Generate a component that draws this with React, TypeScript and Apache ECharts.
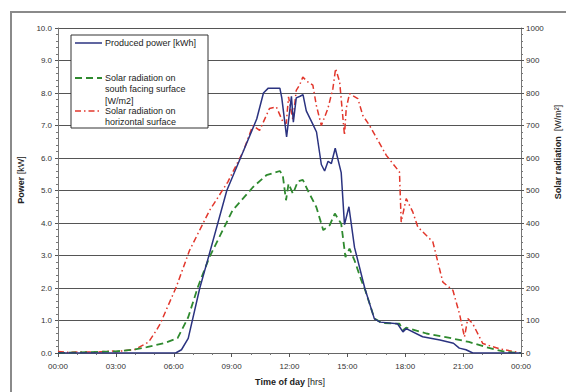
import React, { useEffect, useRef } from "react";
import * as echarts from "echarts";

// Produced power [kW] (left axis)
const powerHours = [0, 6.1, 6.4, 6.75, 7.35, 7.8, 8.75, 9.6, 10.3, 10.65, 10.9, 11.5, 11.6, 11.85, 12.1, 12.2, 12.35, 12.55, 12.7, 12.87, 13.2, 13.4, 13.65, 13.82, 14.0, 14.17, 14.37, 14.68, 14.85, 15.08, 15.37, 15.9, 16.4, 16.7, 17.6, 17.88, 18.05, 18.9, 19.8, 20.5, 20.8, 21.15, 21.5, 24];
const powerKW = [0, 0, 0.1, 0.45, 2.0, 2.95, 5.0, 6.2, 7.2, 8.0, 8.15, 8.15, 7.85, 6.65, 7.9, 7.1, 7.85, 7.9, 7.95, 7.45, 7.05, 6.8, 5.8, 5.6, 5.9, 5.83, 6.3, 5.55, 3.95, 4.5, 3.25, 2.0, 1.05, 0.95, 0.9, 0.65, 0.75, 0.5, 0.4, 0.3, 0.15, 0.1, 0, 0];

// Solar radiation on south facing surface [W/m2] (right axis)
const southHours = [0, 3.0, 3.9, 4.6, 5.6, 6.2, 6.75, 7.25, 7.85, 8.45, 9.05, 10.1, 10.8, 11.5, 11.65, 11.82, 11.95, 12.18, 12.43, 12.69, 12.95, 13.39, 13.75, 14.08, 14.35, 14.68, 14.9, 15.11, 15.37, 15.72, 15.9, 16.4, 16.8, 17.7, 17.88, 18.05, 19.1, 20.1, 21.3, 22.2, 23.2, 24];
const southWm2 = [0, 5, 10, 18, 32, 46, 110, 203, 295, 367, 439, 510, 547, 560, 547, 470, 521, 490, 528, 533, 500, 449, 378, 393, 429, 398, 295, 321, 285, 224, 198, 106, 92, 90, 70, 78, 60, 49, 34, 18, 3, 0];

// Solar radiation on horizontal surface [W/m2] (right axis)
const horizHours = [0, 0.5, 1.0, 2.0, 2.8, 3.0, 4.0, 4.7, 5.1, 5.3, 6.13, 6.82, 7.86, 8.8, 9.6, 10.1, 10.45, 10.96, 11.32, 11.66, 11.83, 11.95, 12.18, 12.35, 12.52, 12.69, 12.95, 13.21, 13.39, 13.65, 13.99, 14.25, 14.39, 14.6, 14.85, 14.94, 15.11, 15.54, 15.8, 16.15, 17.02, 17.7, 17.79, 18.05, 18.39, 18.65, 19.43, 19.95, 20.47, 20.81, 21.07, 21.24, 21.5, 22.02, 22.88, 23.75, 24];
const horizWm2 = [5, 2, 3, 3, 6, 4, 11, 34, 70, 90, 203, 316, 439, 526, 620, 700, 685, 752, 757, 711, 706, 788, 716, 808, 824, 849, 834, 824, 762, 700, 752, 814, 875, 834, 670, 752, 798, 783, 731, 700, 608, 557, 403, 475, 434, 388, 342, 218, 193, 121, 49, 106, 90, 29, 13, 3, 0];

const xTickLabels = ["00:00", "03:00", "06:00", "09:00", "12:00", "15:00", "18:00", "21:00", "00:00"];

const legendNames = ["Produced power [kWh]", "Solar radiation on\nsouth facing surface\n[W/m2]", "Solar radiation on\nhorizontal surface"];

const FONT = "'Liberation Sans', Arial, sans-serif";
const BLUE = "#2b3380";
const GREEN = "#2f8a2f";
const RED = "#e2372c";

const zip = (a: number[], b: number[]) => a.map((v, i) => [v, b[i]]);

export default function App() {
  const ref = useRef<HTMLDivElement>(null);
  useEffect(() => {
    if (!ref.current) return;
    const chart = echarts.init(ref.current, null, { renderer: "svg" });
    const axisLabel = { fontFamily: FONT, fontSize: 8, color: "#333" };
    chart.setOption({
      animation: false,
      backgroundColor: "#fff",
      grid: { left: 58, right: 45, top: 28, bottom: 39, containLabel: false },
      xAxis: {
        type: "value",
        min: 0,
        max: 24,
        interval: 3,
        axisLine: { lineStyle: { color: "#666", width: 1 } },
        axisTick: { show: true, length: 4, lineStyle: { color: "#555" } },
        minorTick: { show: true, splitNumber: 3, length: 2, lineStyle: { color: "#777" } },
        splitLine: { show: false },
        axisLabel: { ...axisLabel, margin: 9, formatter: (v: number) => xTickLabels[Math.round(v / 3)] },
      },
      yAxis: [
        {
          type: "value",
          min: 0,
          max: 10,
          interval: 1,
          axisLine: { show: true, lineStyle: { color: "#777" } },
          axisTick: { show: true, length: 3, lineStyle: { color: "#555" } },
          minorTick: { show: true, splitNumber: 5, length: 2, lineStyle: { color: "#777" } },
          splitLine: { show: true, lineStyle: { color: "#555", width: 1 } },
          axisLabel: { ...axisLabel, margin: 6, formatter: (v: number) => v.toFixed(1) },
        },
        {
          type: "value",
          min: 0,
          max: 1000,
          interval: 100,
          position: "right",
          axisLine: { show: true, lineStyle: { color: "#777" } },
          axisTick: { show: true, length: 3, lineStyle: { color: "#555" } },
          minorTick: { show: true, splitNumber: 5, length: 2, lineStyle: { color: "#777" } },
          splitLine: { show: false },
          axisLabel: { ...axisLabel, margin: 5, formatter: (v: number) => String(v) },
        },
      ],
      series: [
        {
          name: legendNames[0],
          type: "line",
          yAxisIndex: 0,
          data: zip(powerHours, powerKW),
          showSymbol: false,
          z: 4,
          lineStyle: { color: BLUE, width: 1.5 },
        },
        {
          name: legendNames[1],
          type: "line",
          yAxisIndex: 1,
          data: zip(southHours, southWm2),
          showSymbol: false,
          z: 3,
          lineStyle: { color: GREEN, width: 1.8, type: [7, 4] },
        },
        {
          name: legendNames[2],
          type: "line",
          yAxisIndex: 1,
          data: zip(horizHours, horizWm2),
          showSymbol: false,
          z: 2,
          lineStyle: { color: RED, width: 1.5, type: [6, 3, 1.5, 3] },
        },
      ],
      graphic: [
        {
          type: "rect",
          shape: { x: 11, y: 12, width: 600, height: 420 },
          style: { fill: "none", stroke: "#8a8a8a", lineWidth: 2 },
          silent: true,
        },
        {
          type: "rect",
          shape: { x: 71, y: 35, width: 137, height: 93 },
          style: { fill: "#fff", stroke: "#333", lineWidth: 1 },
          z: 10,
        },
        { type: "line", shape: { x1: 75, y1: 43, x2: 102, y2: 43 }, style: { stroke: BLUE, lineWidth: 1.5 }, z: 11 },
        { type: "line", shape: { x1: 75, y1: 78, x2: 102, y2: 78 }, style: { stroke: GREEN, lineWidth: 1.8, lineDash: [7, 4] }, z: 11 },
        { type: "line", shape: { x1: 75, y1: 111, x2: 102, y2: 111 }, style: { stroke: RED, lineWidth: 1.5, lineDash: [6, 3, 1.5, 3] }, z: 11 },
        { type: "text", x: 105, y: 43, z: 11, style: { text: legendNames[0], font: `9px ${FONT}`, fill: "#222", verticalAlign: "middle" } },
        { type: "text", x: 105, y: 72, z: 11, style: { text: legendNames[1], font: `9px ${FONT}`, fill: "#222", verticalAlign: "top", lineHeight: 11.5 } },
        { type: "text", x: 105, y: 105, z: 11, style: { text: legendNames[2], font: `9px ${FONT}`, fill: "#222", verticalAlign: "top", lineHeight: 11.5 } },
        {
          type: "text",
          x: 290,
          y: 382,
          style: {
            text: "{b|Time of day} [hrs]",
            font: `9px ${FONT}`,
            fill: "#222",
            align: "center",
            verticalAlign: "middle",
            rich: { b: { fontWeight: "bold", fontSize: 9, fontFamily: FONT, fill: "#222" } },
          },
        },
        {
          type: "text",
          x: 21,
          y: 180,
          rotation: Math.PI / 2,
          style: {
            text: "{b|Power} [kW]",
            font: `9px ${FONT}`,
            fill: "#222",
            align: "center",
            verticalAlign: "middle",
            rich: { b: { fontWeight: "bold", fontSize: 9, fontFamily: FONT, fill: "#222" } },
          },
        },
        {
          type: "text",
          x: 558,
          y: 152,
          rotation: Math.PI / 2,
          style: {
            text: "{b|Solar radiation}  [W/m²]",
            font: `9px ${FONT}`,
            fill: "#222",
            align: "center",
            verticalAlign: "middle",
            rich: { b: { fontWeight: "bold", fontSize: 9, fontFamily: FONT, fill: "#222" } },
          },
        },
      ],
    });
    return () => chart.dispose();
  }, []);
  return <div ref={ref} style={{ position: "absolute", left: 0, top: 0, width: 566, height: 392 }} />;
}
